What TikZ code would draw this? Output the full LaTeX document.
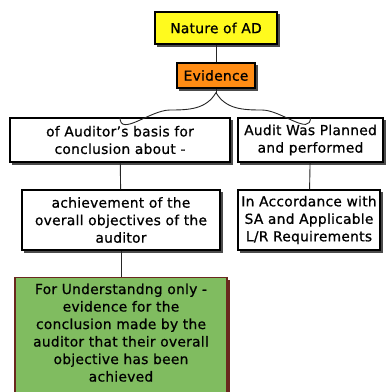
\documentclass[tikz,border=0pt]{standalone}
\usepackage{fontspec}
\setmainfont{DejaVu Sans}[UprightFeatures={FakeBold=0.8},LetterSpace=2]
\usetikzlibrary{positioning,shadows}
\definecolor{adyellow}{RGB}{255,250,30}
\definecolor{adorange}{RGB}{255,140,20}
\definecolor{adgreen}{RGB}{128,188,96}
\definecolor{adbrown}{RGB}{105,40,30}
\begin{document}
\begin{tikzpicture}[x=1pt,y=-1pt,
  box/.style={draw=black,line width=1.1pt,fill=white,align=center,inner sep=1pt,
    font=\fontsize{13.8}{17.5}\selectfont,
    general shadow={shadow xshift=2.5pt,shadow yshift=-2.5pt,fill=#1,draw=#1}},
  box/.default=black!70,
  link/.style={draw=black!85,line width=0.9pt}]
  \useasboundingbox (0,0) rectangle (387,392);

  % Top of the chart
  \node[box,fill=adyellow,minimum width=122pt,minimum height=32pt] (nature) at (216,28) {Nature of AD};
  \node[box,fill=adorange,minimum width=78pt,minimum height=25pt] (ev) at (216,75.5) {Evidence};

  % Second row
  \node[box,minimum width=220pt,minimum height=44pt] (basis) at (120,140) {of Auditor's basis for\\conclusion about -};
  \node[box,minimum width=145pt,minimum height=44pt] (planned) at (310.5,140) {Audit Was Planned\\and performed};

  % Third row
  \node[box,minimum width=198pt,minimum height=60pt] (achieve) at (121,220) {achievement of the\\overall objectives of the\\auditor};
  \node[box,minimum width=142pt,minimum height=60pt] (accord) at (309,220) {In Accordance with\\SA and Applicable\\L/R Requirements};

  % Note box, cut off at the bottom
  \node[box=adbrown,fill=adgreen,draw=adbrown,anchor=north,minimum width=212pt,minimum height=130pt,
    text depth=0pt,inner ysep=6pt] (note) at (121,277)
    {For Understandng only -\\evidence for the\\conclusion made by the\\auditor that their overall\\objective has been\\achieved\\[20pt]};

  % Connectors
  \coordinate (braceL) at (170,110);
  \coordinate (braceR) at (262,110);
  \draw[link] (nature) -- (ev);
  \draw[link] ([yshift=-4pt]ev.south) to[out=-120,in=0] (braceL) to[out=180,in=-90] (basis.north);
  \draw[link] ([yshift=-4pt]ev.south) to[out=-60,in=180] (braceR) to[out=0,in=-90] (planned.north);
  \draw[link] (ev.south) -- ([yshift=-4pt]ev.south);
  \draw[link] (basis) -- (achieve);
  \draw[link] (planned) -- (accord);
  \draw[link] (achieve) -- (note);

\end{tikzpicture}
\end{document}
